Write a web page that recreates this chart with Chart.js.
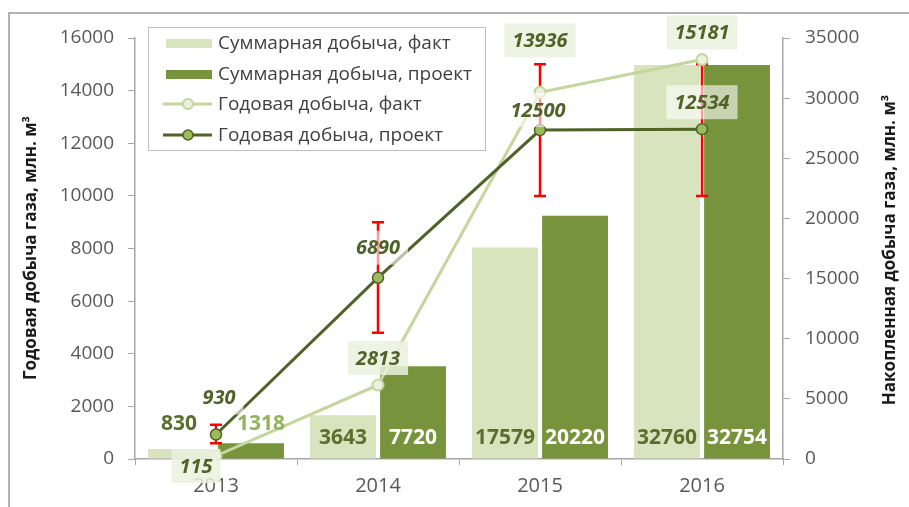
<!DOCTYPE html>
<html>
<head>
<meta charset="utf-8">
<script src="https://cdn.jsdelivr.net/npm/chart.js@4/dist/chart.umd.min.js"></script>
<style>
  html, body { margin: 0; padding: 0; background: #fff; }
  #wrap { width: 909px; height: 507px; position: relative; }
</style>
</head>
<body>
<div id="wrap"><canvas id="c" width="909" height="507"></canvas></div>
<script>
// Годы
const years = ['2013', '2014', '2015', '2016'];
// Накопленная (суммарная) добыча, млн. м3 — правая ось
const cumulativeFact = [830, 3643, 17579, 32760];
const cumulativePlan = [1318, 7720, 20220, 32754];
// Годовая добыча, млн. м3 — левая ось
const annualFact = [115, 2813, 13936, 15181];
const annualPlan = [930, 6890, 12500, 12534];
// Диапазон проектной годовой добычи (планки погрешностей)
const annualPlanLow = [600, 4800, 10000, 10000];
const annualPlanHigh = [1300, 9000, 15000, 15000];
// Шкалы
const leftAxisMax = 16000, leftAxisStep = 2000;
const rightAxisMax = 35000, rightAxisStep = 5000;

const FONT = "'Open Sans', sans-serif";
const C_FACT_BAR = '#d7e4bd';
const C_PLAN_BAR = '#77933c';
const C_FACT_LINE = '#c3d69b';
const C_PLAN_LINE = '#4f6228';
const C_LABEL = '#4f6228';
const C_AXIS = '#a6a6a6';

// placement of value labels relative to line points (px)
const factLabelOffset = [[-20, 10], [0, -27], [0, -52], [0, -27]];
const planLabelOffset = [[3, -37], [0, -30], [-2, -20], [0, -27]];

function drawBoxLabel(ctx, text, x, y, bg) {
  ctx.font = "italic bold 20px " + FONT;
  const w = ctx.measureText(text).width;
  if (bg) {
    ctx.fillStyle = bg;
    ctx.fillRect(x - w / 2 - 8, y - 17, w + 16, 34);
  }
  ctx.fillStyle = C_LABEL;
  ctx.textAlign = 'center';
  ctx.textBaseline = 'middle';
  ctx.fillText(text, x, y + 1);
}

const decor = {
  id: 'decor',
  beforeDraw(chart) {
    const ctx = chart.ctx;
    ctx.save();
    ctx.strokeStyle = '#9a9a9a';
    ctx.lineWidth = 1.5;
    ctx.beginPath();
    ctx.moveTo(9, 507);
    ctx.lineTo(9, 13);
    ctx.lineTo(909, 13);
    ctx.stroke();
    ctx.restore();
  },
  beforeDatasetDraw(chart, args) {
    // red range bars go above the columns and under the lines
    if (args.index !== 2) return;
    const ctx = chart.ctx;
    const y = chart.scales.y;
    const meta = chart.getDatasetMeta(3);
    ctx.save();
    ctx.strokeStyle = '#ff0000';
    ctx.lineWidth = 2.5;
    meta.data.forEach((pt, i) => {
      const x = pt.x;
      const yl = y.getPixelForValue(annualPlanLow[i]);
      const yh = y.getPixelForValue(annualPlanHigh[i]);
      ctx.beginPath();
      ctx.moveTo(x, yl); ctx.lineTo(x, yh);
      ctx.moveTo(x - 6, yl); ctx.lineTo(x + 6, yl);
      ctx.moveTo(x - 6, yh); ctx.lineTo(x + 6, yh);
      ctx.stroke();
    });
    ctx.restore();
  },
  afterDatasetsDraw(chart) {
    const ctx = chart.ctx;
    ctx.save();
    // column values: inside the column near its base, or above a short column
    const base = chart.scales.y1.getPixelForValue(0);
    [[0, cumulativeFact, '#5a6f2e', '#5a6f2e', -2], [1, cumulativePlan, '#ffffff', '#93b35c', 10]].forEach(([di, vals, cIn, cOut, dxOut]) => {
      const meta = chart.getDatasetMeta(di);
      meta.data.forEach((bar, i) => {
        const inside = base - bar.y > 30;
        ctx.font = "bold 21px " + FONT;
        ctx.fillStyle = inside ? cIn : cOut;
        ctx.textAlign = 'center';
        ctx.textBaseline = 'middle';
        ctx.fillText(String(vals[i]), inside ? bar.x : bar.x + dxOut, inside ? base - 21 : base - 35);
      });
    });
    // line values
    chart.getDatasetMeta(2).data.forEach((pt, i) => {
      const o = factLabelOffset[i];
      drawBoxLabel(ctx, String(annualFact[i]), pt.x + o[0], pt.y + o[1], 'rgba(235,241,222,0.85)');
    });
    chart.getDatasetMeta(3).data.forEach((pt, i) => {
      const o = planLabelOffset[i];
      drawBoxLabel(ctx, String(annualPlan[i]), pt.x + o[0], pt.y + o[1], 'rgba(255,255,255,0.6)');
    });

    // legend
    ctx.fillStyle = '#ffffff';
    ctx.fillRect(148, 27, 337, 123);
    ctx.strokeStyle = '#bfbfbf';
    ctx.lineWidth = 1;
    ctx.strokeRect(148.5, 27.5, 337, 123);
    const rows = [43, 74, 104, 135];
    chart.data.datasets.forEach((ds, i) => {
      const ry = rows[i];
      if (ds.type === 'bar') {
        ctx.fillStyle = ds.backgroundColor;
        ctx.fillRect(166, ry - 4, 46, 9);
      } else {
        ctx.strokeStyle = ds.borderColor;
        ctx.lineWidth = 3;
        ctx.beginPath(); ctx.moveTo(163, ry); ctx.lineTo(212, ry); ctx.stroke();
        ctx.beginPath(); ctx.arc(188, ry, 5, 0, Math.PI * 2);
        ctx.fillStyle = ds.pointBackgroundColor; ctx.fill();
        ctx.lineWidth = ds.pointBorderWidth; ctx.strokeStyle = ds.pointBorderColor; ctx.stroke();
      }
      ctx.font = "19px " + FONT;
      ctx.fillStyle = '#404040';
      ctx.textAlign = 'left';
      ctx.textBaseline = 'middle';
      ctx.fillText(ds.label, 218, ry + 1);
    });

    // axis titles
    ctx.font = "bold 17px " + FONT;
    ctx.fillStyle = '#1a1a1a';
    ctx.textAlign = 'center';
    ctx.textBaseline = 'middle';
    ctx.save();
    ctx.translate(31, 248); ctx.rotate(-Math.PI / 2);
    ctx.fillText('Годовая добыча газа, млн. м³', 0, 0);
    ctx.restore();
    ctx.save();
    ctx.translate(890, 250); ctx.rotate(-Math.PI / 2);
    ctx.fillText('Накопленная добыча газа, млн. м³', 0, 0);
    ctx.restore();
    ctx.restore();
  }
};

Chart.defaults.font.family = FONT;
const plainTick = v => String(v);

new Chart(document.getElementById('c'), {
  data: {
    labels: years,
    datasets: [
      { type: 'bar', label: 'Суммарная добыча, факт', data: cumulativeFact, yAxisID: 'y1',
        backgroundColor: C_FACT_BAR, order: 10, categoryPercentage: 0.865, barPercentage: 0.94 },
      { type: 'bar', label: 'Суммарная добыча, проект', data: cumulativePlan, yAxisID: 'y1',
        backgroundColor: C_PLAN_BAR, order: 11, categoryPercentage: 0.865, barPercentage: 0.94 },
      { type: 'line', label: 'Годовая добыча, факт', data: annualFact, yAxisID: 'y',
        borderColor: C_FACT_LINE, borderWidth: 3, pointRadius: 5.5, pointBackgroundColor: '#ebf1de',
        pointBorderColor: C_FACT_LINE, pointBorderWidth: 2, tension: 0, order: 1 },
      { type: 'line', label: 'Годовая добыча, проект', data: annualPlan, yAxisID: 'y',
        borderColor: C_PLAN_LINE, borderWidth: 3, pointRadius: 5.5, pointBackgroundColor: '#9bbb59',
        pointBorderColor: C_PLAN_LINE, pointBorderWidth: 1.5, tension: 0, order: 0 }
    ]
  },
  options: {
    responsive: false,
    animation: false,
    devicePixelRatio: 1,
    layout: { padding: { top: 38, left: 0, right: 0, bottom: 0 } },
    plugins: { legend: { display: false }, tooltip: { enabled: false } },
    scales: {
      x: {
        grid: { display: true, drawOnChartArea: false, offset: true, tickLength: 6, color: C_AXIS },
        border: { color: C_AXIS, width: 1.5 },
        ticks: { color: '#595959', font: { size: 20 }, padding: 9 },
        afterFit(s) { s.height = 48; }
      },
      y: {
        position: 'left', min: 0, max: leftAxisMax,
        ticks: { stepSize: leftAxisStep, color: '#595959', font: { size: 19 }, padding: 14, callback: plainTick },
        grid: { drawOnChartArea: false, tickLength: 7, color: C_AXIS },
        border: { color: C_AXIS, width: 1.5 },
        afterFit(s) { s.width = 135; }
      },
      y1: {
        position: 'right', min: 0, max: rightAxisMax,
        ticks: { stepSize: rightAxisStep, color: '#595959', font: { size: 19 }, padding: 15, callback: plainTick },
        grid: { drawOnChartArea: false, tickLength: 7, color: C_AXIS },
        border: { color: C_AXIS, width: 1.5 },
        afterFit(s) { s.width = 126; }
      }
    }
  },
  plugins: [decor]
});
</script>
</body>
</html>
